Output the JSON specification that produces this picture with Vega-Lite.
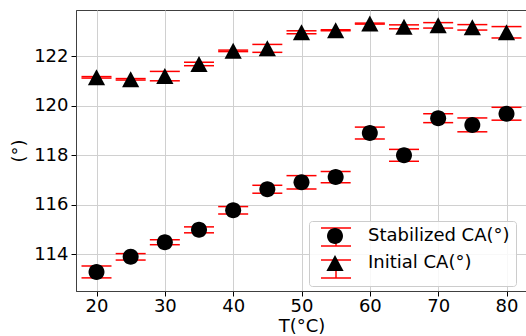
{
  "$schema": "https://vega.github.io/schema/vega-lite/v6.json",
  "width": 451,
  "height": 281,
  "autosize": {"type": "none"},
  "padding": {"left": 76, "top": 10, "right": 0, "bottom": 45},
  "background": "white",
  "data": {
    "values": [
      {"T": 20, "series": "Stabilized CA(°)", "cap": "Stabilized CA(°)", "y": 113.28, "lo": 113.04, "hi": 113.52},
      {"T": 25, "series": "Stabilized CA(°)", "cap": "Stabilized CA(°)", "y": 113.89, "lo": 113.76, "hi": 114.02},
      {"T": 30, "series": "Stabilized CA(°)", "cap": "Stabilized CA(°)", "y": 114.48, "lo": 114.38, "hi": 114.58},
      {"T": 35, "series": "Stabilized CA(°)", "cap": "Stabilized CA(°)", "y": 114.98, "lo": 114.86, "hi": 115.10},
      {"T": 40, "series": "Stabilized CA(°)", "cap": "Stabilized CA(°)", "y": 115.77, "lo": 115.62, "hi": 115.92},
      {"T": 45, "series": "Stabilized CA(°)", "cap": "Stabilized CA(°)", "y": 116.62, "lo": 116.46, "hi": 116.78},
      {"T": 50, "series": "Stabilized CA(°)", "cap": "Stabilized CA(°)", "y": 116.90, "lo": 116.63, "hi": 117.17},
      {"T": 55, "series": "Stabilized CA(°)", "cap": "Stabilized CA(°)", "y": 117.11, "lo": 116.88, "hi": 117.34},
      {"T": 60, "series": "Stabilized CA(°)", "cap": "Stabilized CA(°)", "y": 118.89, "lo": 118.65, "hi": 119.13},
      {"T": 65, "series": "Stabilized CA(°)", "cap": "Stabilized CA(°)", "y": 117.99, "lo": 117.75, "hi": 118.23},
      {"T": 70, "series": "Stabilized CA(°)", "cap": "Stabilized CA(°)", "y": 119.49, "lo": 119.31, "hi": 119.67},
      {"T": 75, "series": "Stabilized CA(°)", "cap": "Stabilized CA(°)", "y": 119.22, "lo": 118.94, "hi": 119.50},
      {"T": 80, "series": "Stabilized CA(°)", "cap": "Stabilized CA(°)", "y": 119.67, "lo": 119.41, "hi": 119.93},
      {"T": 20, "series": "Initial CA(°)", "cap": "Initial CA(°)", "y": 121.14, "lo": 121.11, "hi": 121.17},
      {"T": 25, "series": "Initial CA(°)", "cap": "Initial CA(°)", "y": 121.06, "lo": 121.03, "hi": 121.09},
      {"T": 30, "series": "Initial CA(°)", "cap": "Initial CA(°)", "y": 121.19, "lo": 121.00, "hi": 121.38},
      {"T": 35, "series": "Initial CA(°)", "cap": "Initial CA(°)", "y": 121.68, "lo": 121.61, "hi": 121.75},
      {"T": 40, "series": "Initial CA(°)", "cap": "Initial CA(°)", "y": 122.21, "lo": 122.18, "hi": 122.24},
      {"T": 45, "series": "Initial CA(°)", "cap": "Initial CA(°)", "y": 122.31, "lo": 122.15, "hi": 122.47},
      {"T": 50, "series": "Initial CA(°)", "cap": "Initial CA(°)", "y": 122.96, "lo": 122.90, "hi": 123.02},
      {"T": 55, "series": "Initial CA(°)", "cap": "Initial CA(°)", "y": 123.04, "lo": 123.02, "hi": 123.06},
      {"T": 60, "series": "Initial CA(°)", "cap": "Initial CA(°)", "y": 123.31, "lo": 123.29, "hi": 123.33},
      {"T": 65, "series": "Initial CA(°)", "cap": "Initial CA(°)", "y": 123.18, "lo": 123.10, "hi": 123.26},
      {"T": 70, "series": "Initial CA(°)", "cap": "Initial CA(°)", "y": 123.24, "lo": 123.13, "hi": 123.35},
      {"T": 75, "series": "Initial CA(°)", "cap": "Initial CA(°)", "y": 123.16, "lo": 123.05, "hi": 123.27},
      {"T": 80, "series": "Initial CA(°)", "cap": "Initial CA(°)", "y": 122.96, "lo": 122.73, "hi": 123.19}
    ]
  },
  "encoding": {
    "x": {
      "field": "T",
      "type": "quantitative",
      "title": "T(°C)",
      "scale": {"domain": [17, 83], "nice": false, "zero": false},
      "axis": {"values": [20, 30, 40, 50, 60, 70, 80], "labelPadding": 1, "titlePadding": 2}
    }
  },
  "layer": [
    {
      "mark": {"type": "rule", "color": "#ff0000", "strokeWidth": 1.5},
      "encoding": {
        "y": {"field": "lo", "type": "quantitative", "title": "(°)",
              "scale": {"domain": [112.51, 123.86], "nice": false, "zero": false},
              "axis": {"values": [114, 116, 118, 120, 122], "labelPadding": 3, "titlePadding": 5}},
        "y2": {"field": "hi"}
      }
    },
    {
      "mark": {"type": "tick", "orient": "horizontal", "size": 30, "thickness": 1.5, "opacity": 1},
      "encoding": {
        "y": {"field": "lo", "type": "quantitative", "title": "(°)"},
        "color": {
          "field": "cap", "type": "nominal", "sort": "descending",
          "scale": {"range": ["#ff0000", "#ff0000"]},
          "legend": {
            "title": null, "orient": "none", "legendX": 233, "legendY": 211,
            "symbolType": "M-1.5,-0.9H1.5M-1.5,0.9H1.5M0,-0.9V0.9",
            "symbolSize": 400, "symbolOffset": 11, "labelOffset": 164,
            "symbolStrokeColor": "#ff0000", "symbolStrokeWidth": 1.5, "symbolFillColor": "transparent",
            "rowPadding": 8, "padding": 5,
            "labelExpr": "''",
            "labelFontSize": 18, "labelFont": "DejaVu Sans", "labelOpacity": 0, "labelLimit": 400,
            "fillColor": "rgba(255,255,255,0.85)", "strokeColor": "#cccccc", "cornerRadius": 3
          }
        }
      }
    },
    {
      "mark": {"type": "tick", "orient": "horizontal", "size": 30, "thickness": 1.5, "opacity": 1},
      "encoding": {
        "y": {"field": "hi", "type": "quantitative", "title": "(°)"},
        "color": {"field": "cap", "type": "nominal", "sort": "descending"}
      }
    },
    {
      "mark": {"type": "point", "filled": true, "size": 400, "opacity": 1, "color": "black", "strokeWidth": 0},
      "encoding": {
        "y": {"field": "y", "type": "quantitative", "title": "(°)"},
        "shape": {
          "field": "series", "type": "nominal", "sort": "descending",
          "scale": {"range": ["M0.8,0A0.8,0.8,0,1,1,-0.8,0A0.8,0.8,0,1,1,0.8,0Z", "M0,-0.8L0.86,0.8L-0.86,0.8Z"]},
          "legend": {
            "title": null, "orient": "none", "legendX": 233, "legendY": 211,
            "symbolSize": 400, "symbolOffset": 11, "labelOffset": 23,
            "rowPadding": 8, "padding": 5,
            "labelFontSize": 18, "labelFont": "DejaVu Sans", "labelColor": "black", "labelLimit": 400,
            "symbolFillColor": "black", "symbolStrokeWidth": 0
          }
        }
      }
    }
  ],
  "config": {
    "font": "DejaVu Sans",
    "view": {"stroke": "#404040", "strokeWidth": 1},
    "axis": {
      "labelFont": "DejaVu Sans", "labelFontSize": 18, "labelColor": "black",
      "titleFont": "DejaVu Sans", "titleFontSize": 18, "titleFontWeight": "normal", "titleColor": "black",
      "tickColor": "#000000", "tickSize": 5, "tickWidth": 1,
      "domainColor": "#404040", "domainWidth": 1,
      "gridColor": "#d0d0d0", "gridWidth": 1
    }
  }
}
